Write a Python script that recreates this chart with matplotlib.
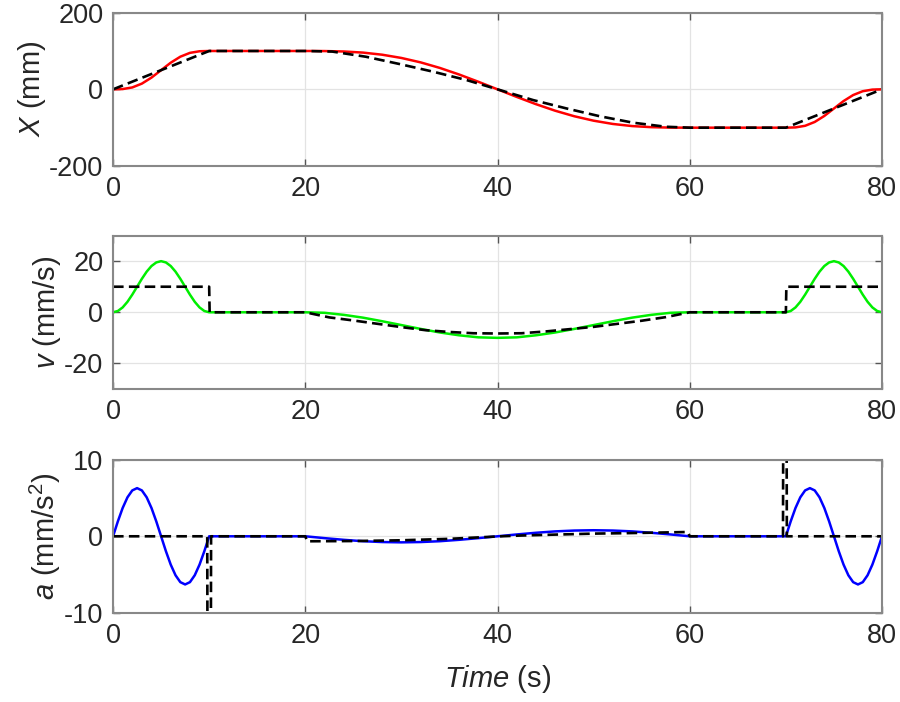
import matplotlib
matplotlib.use("Agg")
import matplotlib.pyplot as plt

plt.rcParams['font.family'] = ['Liberation Sans', 'DejaVu Sans']
plt.rcParams['mathtext.fontset'] = 'custom'
plt.rcParams['mathtext.rm'] = 'Liberation Sans'
plt.rcParams['mathtext.it'] = 'Liberation Sans:italic'
plt.rcParams['axes.unicode_minus'] = False

# position X (mm), solid = reference, dashed = estimate
t_x = [0, 1, 2, 3, 4, 5, 6, 7, 8, 9, 10, 20, 22, 24, 26, 28, 30, 32, 34, 36, 38, 40,
       42, 44, 46, 48, 50, 52, 54, 56, 58, 60, 70, 71, 72, 73, 74, 75, 76, 77, 78, 79, 80]
x_ref = [0, 0.7, 4.9, 14.9, 30.6, 50, 69.4, 85.1, 95.1, 99.3, 100, 100, 99.8, 98.7, 95.8, 90.3,
         81.8, 70.3, 55.8, 38.7, 19.8, 0, -19.8, -38.7, -55.8, -70.3, -81.8, -90.3, -95.8,
         -98.7, -99.8, -100, -100, -99.3, -95.1, -85.1, -69.4, -50, -30.6, -14.9, -4.9, -0.7, 0]
t_xd = [0, 10, 20, 22.8, 26.3, 29.8, 33.3, 36.8, 40, 43.7, 47.2, 50.6, 54.1, 57.5, 60, 70, 80]
x_est = [0, 100, 100, 98.5, 85, 66, 46, 24, 0, -28, -50, -70, -87, -97.6, -100, -100, 0]

# velocity v (mm/s)
t_v = [0, 0.5, 1, 1.5, 2, 2.5, 3, 3.5, 4, 4.5, 5, 5.5, 6, 6.5, 7, 7.5, 8, 8.5, 9, 9.5, 10,
       20, 22, 24, 26, 28, 30, 32, 34, 36, 38, 40, 42, 44, 46, 48, 50, 52, 54, 56, 58, 60,
       70, 70.5, 71, 71.5, 72, 72.5, 73, 73.5, 74, 74.5, 75, 75.5, 76, 76.5, 77, 77.5, 78,
       78.5, 79, 79.5, 80]
v_ref = [0, 0.5, 1.9, 4.1, 6.9, 10, 13.1, 15.9, 18.1, 19.5, 20, 19.5, 18.1, 15.9, 13.1, 10,
         6.9, 4.1, 1.9, 0.5, 0,
         0, -0.2, -1.0, -2.1, -3.5, -5, -6.5, -7.9, -9.0, -9.8, -10, -9.8, -9.0, -7.9, -6.5,
         -5, -3.5, -2.1, -1.0, -0.2, 0,
         0, 0.5, 1.9, 4.1, 6.9, 10, 13.1, 15.9, 18.1, 19.5, 20, 19.5, 18.1, 15.9, 13.1, 10,
         6.9, 4.1, 1.9, 0.5, 0]
t_vd = [0, 10, 10.05, 20, 22.5, 25, 27.5, 30, 32.5, 35, 37.5, 40, 42.5, 45, 47.5, 50, 52.5,
        55, 57.5, 60, 70, 70.05, 80]
v_est = [10, 10, 0, 0, -2, -3.2, -4.5, -5.8, -7, -7.7, -8.2, -8.3, -8.2, -7.5, -6.6, -5.7,
         -4.5, -3.3, -1.9, 0, 0, 10, 10]

# acceleration a (mm/s^2)
t_a = [0, 0.5, 1, 1.5, 2, 2.5, 3, 3.5, 4, 4.5, 5, 5.5, 6, 6.5, 7, 7.5, 8, 8.5, 9, 9.5, 10,
       20, 22, 24, 26, 28, 30, 32, 34, 36, 38, 40, 42, 44, 46, 48, 50, 52, 54, 56, 58, 60,
       70, 70.5, 71, 71.5, 72, 72.5, 73, 73.5, 74, 74.5, 75, 75.5, 76, 76.5, 77, 77.5, 78,
       78.5, 79, 79.5, 80]
a_ref = [0, 1.94, 3.69, 5.08, 5.98, 6.28, 5.98, 5.08, 3.69, 1.94, 0, -1.94, -3.69, -5.08,
         -5.98, -6.28, -5.98, -5.08, -3.69, -1.94, 0,
         0, -0.24, -0.46, -0.64, -0.75, -0.79, -0.75, -0.64, -0.46, -0.24, 0, 0.24, 0.46,
         0.64, 0.75, 0.79, 0.75, 0.64, 0.46, 0.24, 0,
         0, 1.94, 3.69, 5.08, 5.98, 6.28, 5.98, 5.08, 3.69, 1.94, 0, -1.94, -3.69, -5.08,
         -5.98, -6.28, -5.98, -5.08, -3.69, -1.94, 0]
t_ad = [0, 9.8, 9.9, 10.1, 10.2, 20, 20.2, 25, 30, 35, 40, 42.5, 46, 50, 53, 56.5, 59.8, 60,
        69.7, 69.8, 70.0, 70.1, 80]
a_est = [0, 0, -60, -60, 0, 0, -0.65, -0.62, -0.52, -0.33, -0.02, 0.1, 0.22, 0.35, 0.4, 0.48,
         0.56, 0, 0, 60, 60, 0, 0]

fig = plt.figure(figsize=(9, 7.02), dpi=100)
left, width, h = 0.1256, 0.8544, 0.2185
ax1 = fig.add_axes([left, 0.7635, width, h])
ax2 = fig.add_axes([left, 0.4459, width, h])
ax3 = fig.add_axes([left, 0.1268, width, h])

dash = (0, (4, 2))
ax1.plot(t_x, x_ref, color='#ff0000', lw=1.8)
ax1.plot(t_xd, x_est, color='k', lw=1.9, linestyle=dash)
ax2.plot(t_v, v_ref, color='#00ee00', lw=1.8)
ax2.plot(t_vd, v_est, color='k', lw=1.9, linestyle=dash)
ax3.plot(t_a, a_ref, color='#0000ff', lw=1.8)
ax3.plot(t_ad, a_est, color='k', lw=1.9, linestyle=dash)

ax1.set_ylim(-200, 200)
ax1.set_yticks([-200, 0, 200])
ax2.set_ylim(-30, 30)
ax2.set_yticks([-20, 0, 20])
ax3.set_ylim(-10, 10)
ax3.set_yticks([-10, 0, 10])

ax1.set_ylabel(r'$\it{X}$ (mm)', fontsize=21, labelpad=1)
ax2.set_ylabel(r'$\it{v}$ (mm/s)', fontsize=21, labelpad=1)
ax3.set_ylabel(r'$\it{a}$ (mm/s$^2$)', fontsize=21, labelpad=1)
ax3.set_xlabel(r'$\it{Time}$ (s)', fontsize=21, labelpad=10)

for ax in (ax1, ax2, ax3):
    ax.set_xlim(0, 80)
    ax.set_xticks([0, 20, 40, 60, 80])
    ax.grid(True, color='#e3e3e3', lw=0.9)
    ax.set_axisbelow(True)
    ax.tick_params(direction='in', length=5, width=1, top=True, right=True,
                   labelsize=19.5, colors='#262626', pad=7)
    ax.tick_params(color='#555555')
    for s in ax.spines.values():
        s.set_color('#888888')
        s.set_linewidth(1.5)
    ax.yaxis.label.set_color('#262626')
    ax.xaxis.label.set_color('#262626')

fig.savefig('out.png', dpi=100)
